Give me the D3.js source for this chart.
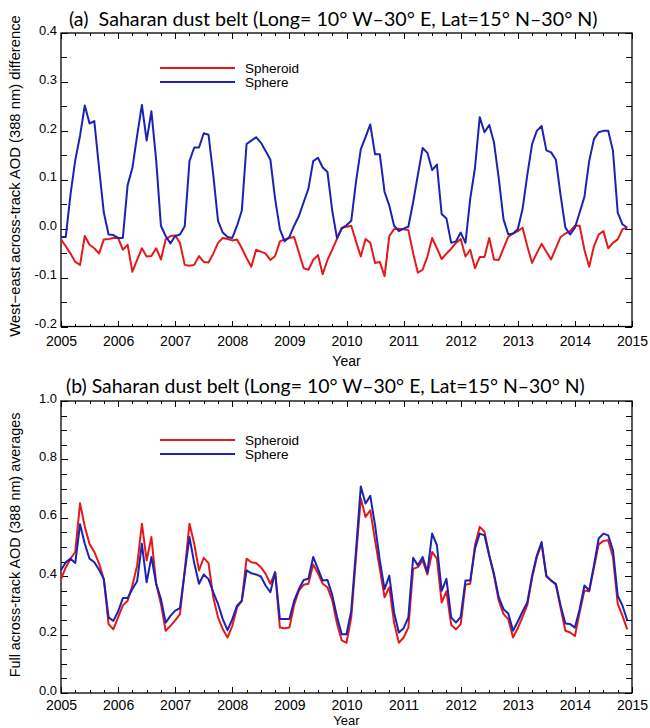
<!DOCTYPE html>
<head>
<meta charset="utf-8">
<script src="https://d3js.org/d3.v7.min.js"></script>
<style>
    body {
        margin: 0;
        background: #fff;
    }
    .axis path {
        display: none;
    }
    .axis line {
        stroke: #000;
        stroke-width: 1px;
        shape-rendering: crispEdges;
    }
    .axis text {
        font-family: "Liberation Sans", Arial, sans-serif;
        fill: #000;
    }
    .title {
        font-family: Lato, "Open Sans", sans-serif;
        font-size: 20px;
    }
    .label {
        font-family: "Liberation Sans", Arial, sans-serif;
        font-size: 13.5px;
    }
</style>
</head>

<body>
<div id="chart"></div>
<script>
    // monthly values, Jan 2005 .. Dec 2014
    var diffSpheroid = [
        -0.022, -0.036, -0.051, -0.068, -0.074, -0.015, -0.033, -0.040, -0.051, -0.022,
        -0.021, -0.019, -0.019, -0.043, -0.033, -0.088, -0.064, -0.040, -0.057, -0.056,
        -0.040, -0.063, -0.022, -0.015, -0.014, -0.029, -0.074, -0.076, -0.074, -0.056,
        -0.068, -0.069, -0.051, -0.029, -0.019, -0.021, -0.024, -0.022, -0.040, -0.060,
        -0.078, -0.043, -0.047, -0.051, -0.064, -0.056, -0.026, -0.022, -0.019, -0.017,
        -0.049, -0.081, -0.084, -0.064, -0.054, -0.093, -0.064, -0.043, -0.021, 0.002,
        0.004, 0.006, -0.026, -0.057, -0.021, -0.029, -0.070, -0.068, -0.097, -0.015,
        -0.001, 0.000, -0.001, -0.003, -0.050, -0.090, -0.084, -0.057, -0.019, -0.040,
        -0.062, -0.051, -0.041, -0.029, -0.021, -0.057, -0.043, -0.081, -0.058, -0.058,
        -0.019, -0.063, -0.064, -0.040, -0.017, -0.010, -0.005, 0.002, -0.036, -0.070,
        -0.050, -0.031, -0.047, -0.063, -0.040, -0.017, -0.010, -0.005, 0.006, 0.006,
        -0.043, -0.078, -0.036, -0.012, -0.005, -0.040, -0.029, -0.022, -0.001, 0.002
    ];
    var diffSphere = [
        -0.017, -0.017, 0.070, 0.140, 0.190, 0.252, 0.215, 0.220, 0.124, 0.033,
        -0.012, -0.013, -0.019, -0.019, 0.089, 0.124, 0.190, 0.253, 0.180, 0.240,
        0.140, 0.006, -0.015, -0.030, -0.015, -0.012, 0.005, 0.138, 0.166, 0.166,
        0.195, 0.192, 0.110, 0.016, -0.008, -0.017, -0.019, 0.006, 0.037, 0.173,
        0.180, 0.187, 0.176, 0.159, 0.141, 0.061, -0.001, -0.026, -0.017, 0.006,
        0.026, 0.054, 0.082, 0.138, 0.145, 0.125, 0.116, 0.037, -0.019, 0.000,
        0.007, 0.016, 0.096, 0.162, 0.187, 0.213, 0.152, 0.152, 0.075, 0.047,
        0.006, -0.005, 0.000, 0.004, 0.054, 0.110, 0.165, 0.155, 0.120, 0.131,
        0.030, 0.021, -0.029, -0.026, -0.008, -0.029, 0.061, 0.124, 0.228, 0.197,
        0.212, 0.176, 0.103, 0.019, -0.012, -0.010, -0.001, 0.040, 0.110, 0.173,
        0.200, 0.210, 0.160, 0.156, 0.141, 0.068, 0.002, -0.012, 0.002, 0.033,
        0.065, 0.138, 0.183, 0.197, 0.200, 0.200, 0.159, 0.033, 0.009, 0.002
    ];
    var avgSpheroid = [
        0.390, 0.430, 0.460, 0.483, 0.650, 0.570, 0.510, 0.483, 0.443, 0.390,
        0.236, 0.218, 0.259, 0.300, 0.316, 0.368, 0.437, 0.580, 0.454, 0.534,
        0.374, 0.305, 0.213, 0.230, 0.249, 0.270, 0.420, 0.580, 0.511, 0.420,
        0.463, 0.445, 0.328, 0.259, 0.218, 0.190, 0.230, 0.293, 0.316, 0.460,
        0.448, 0.445, 0.431, 0.408, 0.374, 0.414, 0.224, 0.222, 0.224, 0.302,
        0.351, 0.371, 0.374, 0.440, 0.410, 0.374, 0.362, 0.318, 0.238, 0.180,
        0.172, 0.259, 0.466, 0.667, 0.603, 0.626, 0.523, 0.425, 0.328, 0.362,
        0.241, 0.172, 0.190, 0.224, 0.425, 0.431, 0.454, 0.406, 0.483, 0.460,
        0.310, 0.348, 0.233, 0.218, 0.236, 0.371, 0.374, 0.506, 0.569, 0.552,
        0.471, 0.402, 0.316, 0.270, 0.253, 0.190, 0.222, 0.261, 0.302, 0.394,
        0.466, 0.511, 0.399, 0.385, 0.371, 0.291, 0.213, 0.207, 0.195, 0.276,
        0.351, 0.348, 0.429, 0.509, 0.521, 0.523, 0.466, 0.305, 0.264, 0.218
    ];
    var avgSphere = [
        0.420, 0.448, 0.460, 0.445, 0.578, 0.511, 0.460, 0.448, 0.422, 0.390,
        0.259, 0.247, 0.279, 0.325, 0.325, 0.356, 0.383, 0.511, 0.379, 0.466,
        0.374, 0.322, 0.241, 0.264, 0.282, 0.291, 0.414, 0.534, 0.445, 0.374,
        0.406, 0.390, 0.345, 0.305, 0.253, 0.215, 0.253, 0.299, 0.316, 0.420,
        0.410, 0.406, 0.399, 0.368, 0.345, 0.414, 0.253, 0.253, 0.253, 0.316,
        0.356, 0.387, 0.391, 0.466, 0.425, 0.385, 0.387, 0.336, 0.261, 0.201,
        0.201, 0.282, 0.489, 0.707, 0.649, 0.675, 0.575, 0.454, 0.356, 0.402,
        0.276, 0.207, 0.222, 0.259, 0.463, 0.437, 0.466, 0.414, 0.546, 0.506,
        0.350, 0.391, 0.259, 0.241, 0.261, 0.385, 0.385, 0.494, 0.546, 0.540,
        0.471, 0.408, 0.328, 0.287, 0.272, 0.213, 0.245, 0.279, 0.310, 0.402,
        0.471, 0.517, 0.402, 0.385, 0.374, 0.299, 0.238, 0.236, 0.224, 0.287,
        0.368, 0.351, 0.437, 0.529, 0.546, 0.540, 0.489, 0.333, 0.299, 0.249
    ];

    var years = [2005, 2006, 2007, 2008, 2009, 2010, 2011, 2012, 2013, 2014, 2015];
    var diffTicks = [-0.2, -0.1, 0.0, 0.1, 0.2, 0.3, 0.4];
    var avgTicks = [0.0, 0.2, 0.4, 0.6, 0.8, 1.0];
    var seriesNames = ["Spheroid", "Sphere"];
    var colors = ["#e3191c", "#1c22b4"];

    // x position of each monthly value (decimal year)
    var months = d3.range(diffSphere.length).map(function (i) { return 2005 + i / 12; });

    var width = 650, height = 728;
    var svg = d3.select("#chart").append("svg")
        .attr("width", width)
        .attr("height", height);

    var x = d3.scaleLinear().domain([2005, 2015]).range([61, 632]);

    // shrink/grow a text's font so it spans the wanted length
    function fitText(sel, len) {
        var fs = parseFloat(sel.style("font-size"));
        var w = sel.node().getComputedTextLength();
        sel.style("font-size", (fs * len / w) + "px");
    }

    function drawPanel(p) {
        var y = d3.scaleLinear().domain(p.domain).range([p.bottom, p.top]);
        var g = svg.append("g");

        var minorX = d3.range(2005, 2015.001, 0.25);
        var minorY = d3.range(p.domain[0], p.domain[1] + 0.001, 0.05);

        // bottom and top axes, ticks pointing inward
        g.append("g").attr("class", "axis")
            .attr("transform", "translate(0," + p.bottom + ")")
            .call(d3.axisBottom(x).tickValues(minorX).tickSize(-3).tickFormat(""));
        g.append("g").attr("class", "axis")
            .attr("transform", "translate(0," + p.bottom + ")")
            .call(d3.axisBottom(x).tickValues(years).tickSize(-6).tickPadding(p.yearPad)
                .tickFormat(function (d) { return d; }))
            .selectAll("text").style("font-size", "14px").attr("dy", "0");
        g.append("g").attr("class", "axis")
            .attr("transform", "translate(0," + p.top + ")")
            .call(d3.axisTop(x).tickValues(minorX).tickSize(-3).tickFormat(""));
        g.append("g").attr("class", "axis")
            .attr("transform", "translate(0," + p.top + ")")
            .call(d3.axisTop(x).tickValues(years).tickSize(-6).tickFormat(""));

        // left and right axes
        g.append("g").attr("class", "axis")
            .attr("transform", "translate(61,0)")
            .call(d3.axisLeft(y).tickValues(minorY).tickSize(-6).tickFormat(""));
        g.append("g").attr("class", "axis")
            .attr("transform", "translate(61,0)")
            .call(d3.axisLeft(y).tickValues(p.ticks).tickSize(-7).tickPadding(4)
                .tickFormat(function (d) { return d.toFixed(1); }))
            .selectAll("text").style("font-size", "13px").attr("y", -3);
        g.append("g").attr("class", "axis")
            .attr("transform", "translate(632,0)")
            .call(d3.axisRight(y).tickValues(minorY).tickSize(-6).tickFormat(""));
        g.append("g").attr("class", "axis")
            .attr("transform", "translate(632,0)")
            .call(d3.axisRight(y).tickValues(p.ticks).tickSize(-7).tickFormat(""));

        // frame
        g.append("rect")
            .attr("x", 61).attr("y", p.top)
            .attr("width", 632 - 61).attr("height", p.bottom - p.top)
            .attr("fill", "none").attr("stroke", "#000").attr("stroke-width", 1.3);

        var line = d3.line()
            .x(function (d, i) { return x(months[i]); })
            .y(function (d) { return y(d); });

        p.series.forEach(function (s, k) {
            g.append("path")
                .datum(s)
                .attr("d", line)
                .attr("fill", "none")
                .attr("stroke", colors[k])
                .attr("stroke-width", 2)
                .attr("stroke-linejoin", "round");
        });

        // legend
        seriesNames.forEach(function (name, k) {
            var ly = p.legendY + k * 14;
            g.append("line")
                .attr("x1", 160).attr("x2", 235)
                .attr("y1", ly).attr("y2", ly)
                .attr("stroke", colors[k]).attr("stroke-width", 2);
            g.append("text")
                .attr("class", "label")
                .attr("x", 245).attr("y", ly + 4.5)
                .style("font-size", "13.5px")
                .text(name);
        });

        var title = g.append("text")
            .attr("class", "title")
            .attr("x", p.titleX).attr("y", p.titleY)
            .text(p.title);
        fitText(title, p.titleLen);

        var ylab = g.append("text")
            .attr("class", "label")
            .attr("transform", "translate(20," + p.ylabelY + ") rotate(-90)")
            .attr("text-anchor", "middle")
            .text(p.ylabel);
        fitText(ylab, p.ylabelLen);

        g.append("text")
            .attr("class", "label")
            .attr("x", x(2010)).attr("y", p.yearY)
            .attr("text-anchor", "middle")
            .style("font-size", p.yearSize)
            .text("Year");
    }

    drawPanel({
        top: 33, bottom: 326.5, domain: [-0.2, 0.4], ticks: diffTicks,
        series: [diffSpheroid, diffSphere], legendY: 68,
        title: "(a)\u00a0\u00a0Saharan dust belt (Long= 10° W–30° E, Lat=15° N–30° N)",
        titleX: 69, titleY: 26, titleLen: 529,
        ylabel: "West\u2212east across-track AOD (388 nm) difference",
        ylabelY: 176, ylabelLen: 322, yearPad: 19, yearY: 366, yearSize: "14px"
    });

    drawPanel({
        top: 401, bottom: 693, domain: [0, 1], ticks: avgTicks,
        series: [avgSpheroid, avgSphere], legendY: 440,
        title: "(b) Saharan dust belt (Long= 10° W–30° E, Lat=15° N–30° N)",
        titleX: 66, titleY: 393, titleLen: 519,
        ylabel: "Full across-track AOD (388 nm) averages",
        ylabelY: 545, ylabelLen: 265, yearPad: 17, yearY: 725, yearSize: "13px"
    });
</script>
</body>
